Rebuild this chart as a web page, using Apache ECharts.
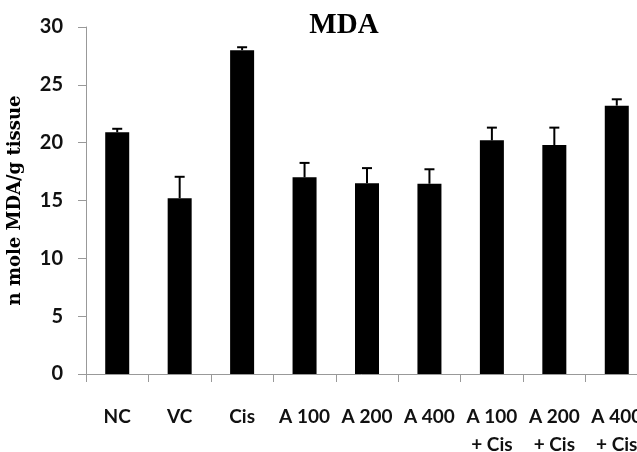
<!DOCTYPE html>
<html>
<head>
<meta charset="utf-8">
<script src="https://cdn.jsdelivr.net/npm/echarts@6/dist/echarts.min.js"></script>
<style>
  html, body { margin: 0; padding: 0; background: #fff; }
  #main { width: 637px; height: 452px; }
</style>
</head>
<body>
<div id="main"></div>
<script>
// data
var categories = ["NC", "VC", "Cis", "A 100", "A 200", "A 400", "A 100\n+ Cis", "A 200\n+ Cis", "A 400\n+ Cis"]
var mdaValues = [20.9, 15.2, 28.0, 17.0, 16.5, 16.45, 20.2, 19.8, 23.2]
var mdaErrors = [0.3, 1.85, 0.25, 1.25, 1.3, 1.25, 1.1, 1.5, 0.55]
var yTicks = [0, 5, 10, 15, 20, 25, 30]

var chartDom = document.getElementById("main")
var myChart = echarts.init(chartDom)

var errorData = mdaValues.map(function (v, i) {
  return [i, v, v + mdaErrors[i]]
})

var option = {
  animation: false,
  backgroundColor: "#fff",
  title: {
    text: "MDA",
    left: 339,
    top: 6,
    textAlign: "center",
    textStyle: {
      fontFamily: "Liberation Serif",
      fontWeight: "bold",
      fontSize: 29,
      color: "#000"
    }
  },
  grid: {
    left: 86,
    width: 562,
    top: 27,
    bottom: 78,
    containLabel: false,
    outerBoundsMode: "none"
  },
  xAxis: {
    type: "category",
    data: categories,
    axisLine: { lineStyle: { color: "#999", width: 1 } },
    axisTick: { show: true, length: 8, lineStyle: { color: "#999" } },
    axisLabel: {
      margin: 29,
      fontFamily: "Lato",
      fontWeight: "bold",
      fontSize: 19,
      color: "#111",
      lineHeight: 28,
      verticalAlign: "top",
      interval: 0
    }
  },
  yAxis: {
    type: "value",
    min: yTicks[0],
    max: yTicks[yTicks.length - 1],
    interval: 5,
    name: "n mole MDA/g tissue",
    nameLocation: "middle",
    nameGap: 62,
    nameTextStyle: {
      fontFamily: "DejaVu Serif",
      fontWeight: "bold",
      fontSize: 18,
      color: "#000"
    },
    splitLine: { show: false },
    axisLine: { show: true, lineStyle: { color: "#999", width: 1 } },
    axisTick: { show: true, length: 8, lineStyle: { color: "#999" } },
    axisLabel: {
      margin: 23,
      fontFamily: "Lato",
      fontWeight: "bold",
      fontSize: 20,
      color: "#111"
    }
  },
  series: [
    {
      name: "MDA",
      type: "bar",
      data: mdaValues,
      barWidth: 24,
      itemStyle: { color: "#000" },
      z: 2
    },
    {
      name: "error",
      type: "custom",
      data: errorData,
      z: 3,
      renderItem: function (params, api) {
        var x = api.value(0)
        var low = api.coord([x, api.value(1)])
        var high = api.coord([x, api.value(2)])
        var half = 5
        var style = { stroke: "#000", lineWidth: 2 }
        return {
          type: "group",
          children: [
            { type: "line", shape: { x1: low[0], y1: low[1], x2: high[0], y2: high[1] }, style: style },
            { type: "line", shape: { x1: high[0] - half, y1: high[1], x2: high[0] + half, y2: high[1] }, style: style }
          ]
        }
      }
    }
  ]
}

option && myChart.setOption(option)
//自适应
window.addEventListener("resize", function () {
  myChart.resize()
})
</script>
</body>
</html>
